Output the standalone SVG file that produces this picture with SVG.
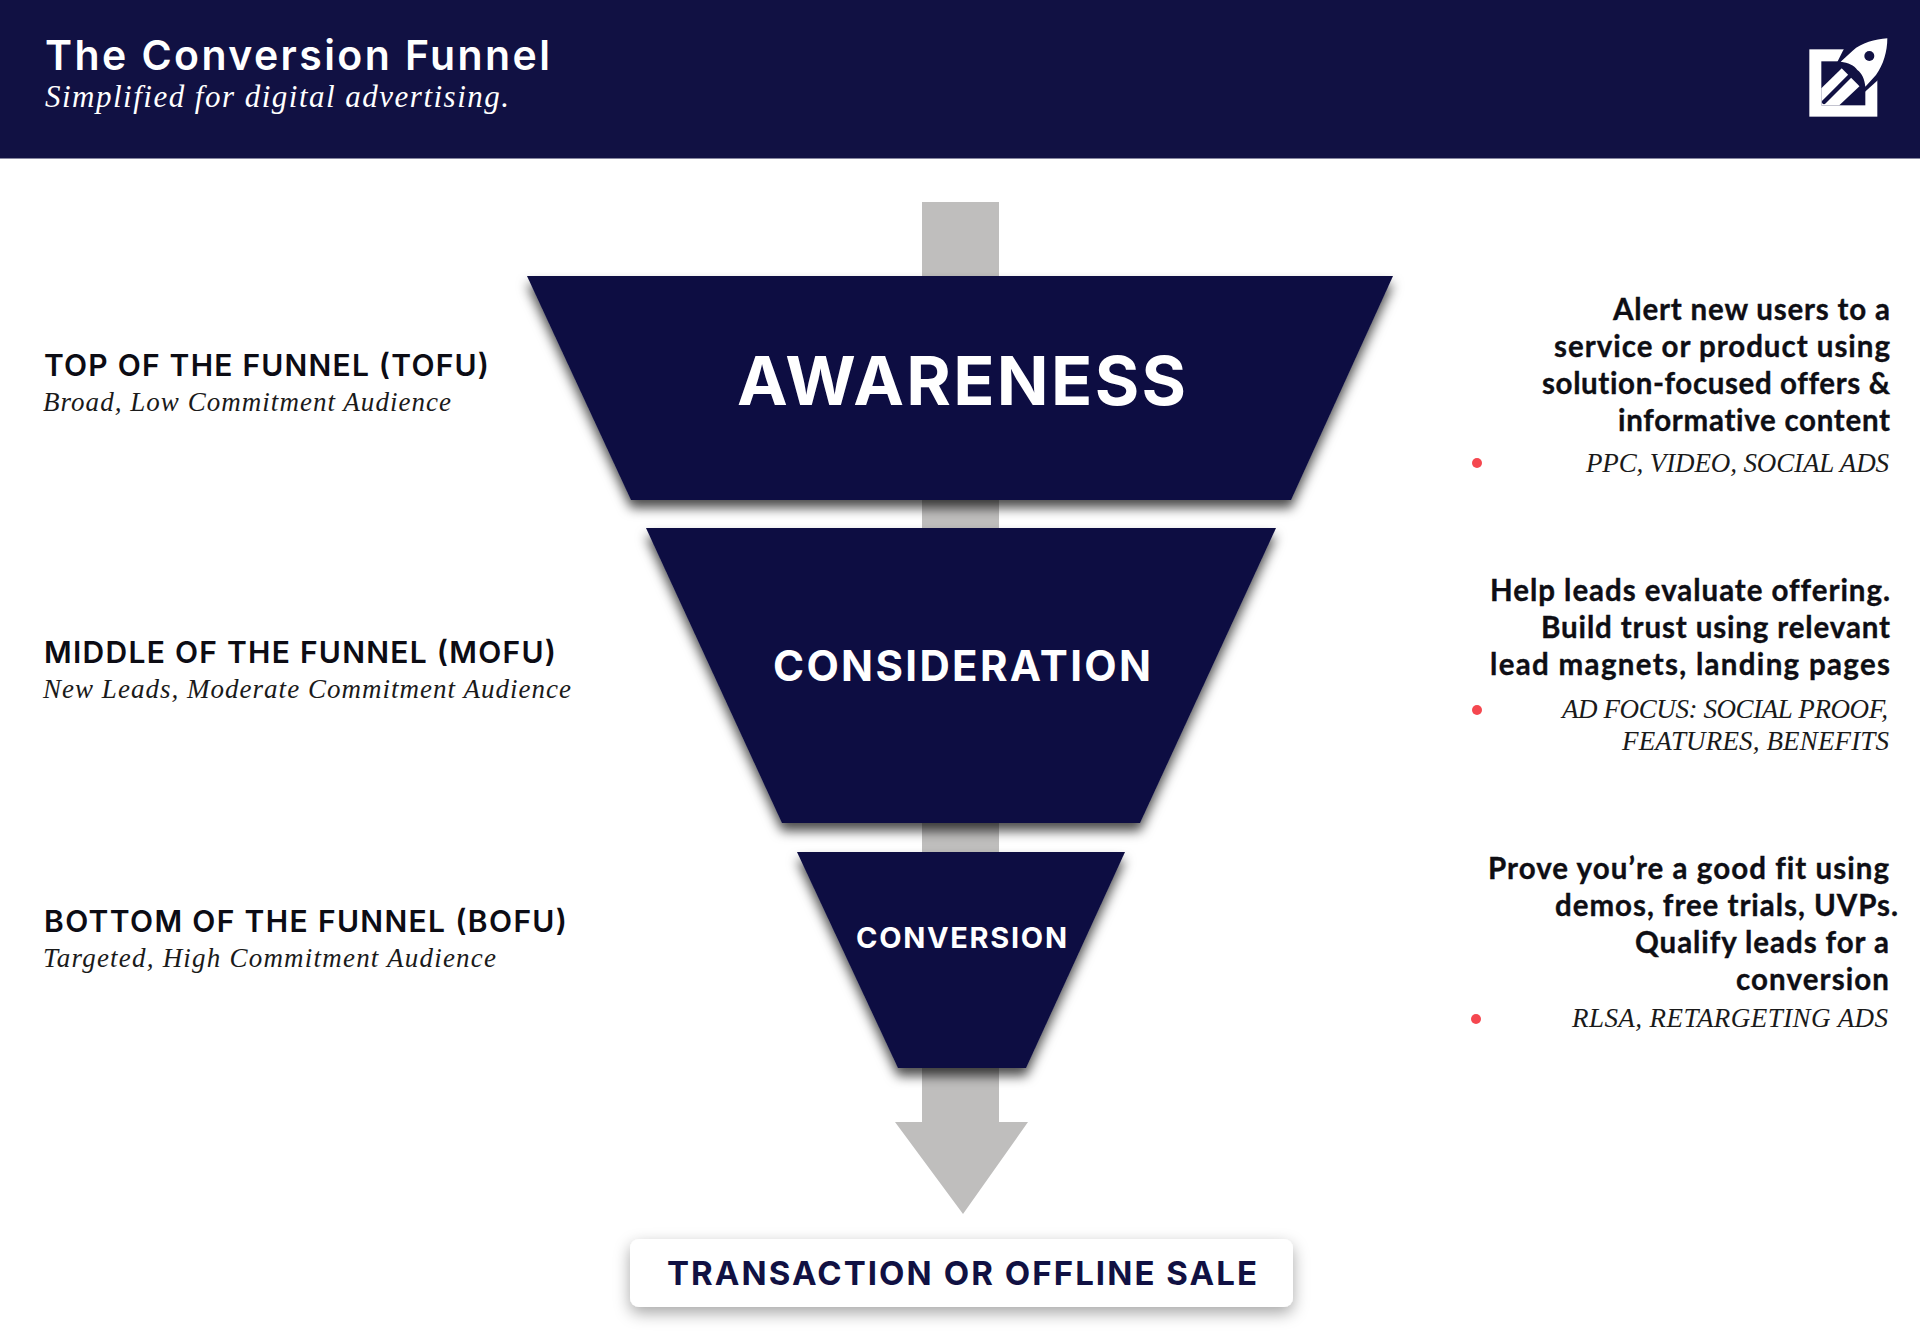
<svg xmlns="http://www.w3.org/2000/svg" width="1920" height="1339" viewBox="0 0 1920 1339">
<style>
.s{font-family:"Lato","Liberation Sans",sans-serif;font-variant-ligatures:none}
.c{font-family:"Inter","Liberation Sans",sans-serif}
.i{font-family:"Liberation Serif","Times New Roman",serif;font-style:italic;font-size:27px;fill:#1a1a1a}
.lab{font-size:30px;font-weight:600;fill:#0c0c14}
.body{font-size:29.5px;font-weight:700;fill:#0e0e14;stroke:#0e0e14;stroke-width:.35px}
.head{font-weight:700;fill:#fff}
.f{fill:#111143;filter:url(#sh)}
.dot{fill:#f5474f}
.nv{fill:#111143}
</style>
<defs>
<filter id="sh" x="-15%" y="-15%" width="130%" height="135%"><feDropShadow dx="0" dy="8" stdDeviation="6" flood-color="#000" flood-opacity="0.7"/></filter>
<filter id="bx" x="-10%" y="-40%" width="120%" height="190%"><feDropShadow dx="0" dy="6" stdDeviation="8" flood-color="#000" flood-opacity="0.35"/></filter>
</defs>
<rect width="1920" height="1339" fill="#fff"/>
<g id="header">
<rect class="nv" width="1920" height="158.5"/>
<text class="c" x="45" y="70" font-size="41" font-weight="600" fill="#fff" textLength="505">The Conversion Funnel</text>
<text class="i" x="45" y="107" style="font-size:31px;fill:#fff" textLength="464">Simplified for digital advertising.</text>
<g id="logo" transform="translate(1780 20) scale(.3333)">
<rect x="88" y="88" width="204" height="202" fill="#fff"/>
<rect class="nv" x="124" y="124" width="132" height="132"/>
<polygon fill="#fff" points="124,205 190,140 248,190 178,256 124,256"/>
<line x1="132" y1="246" x2="212" y2="166" stroke="#111143" stroke-width="13" stroke-linecap="round"/>
<polygon class="nv" points="195,80 300,80 300,175 255,215 170,130"/>
<path d="M322 55C285 58 245 68 218 92L182 125C205 128 222 135 232 150C246 160 254 178 256 200L288 165C310 135 322 95 322 55Z" fill="#fff"/>
<circle class="nv" cx="268" cy="108" r="15"/>
</g>
</g>
<g id="connectors">
<polygon fill="#bfbebd" points="922,202 999,202 999,1122 1028,1122 963,1214 895,1122 922,1122"/>
</g>
<g id="awareness">
<polygon class="f" points="527,276 1393,276 1291,500 631,500"/>
<text class="c head" x="737" y="405" font-size="68" textLength="449">AWARENESS</text>
</g>
<g id="consideration">
<polygon class="f" points="646,528 1276,528 1140,823 782,823"/>
<text class="c head" x="773" y="681" font-size="42" textLength="378">CONSIDERATION</text>
</g>
<g id="conversion">
<polygon class="f" points="797,852 1125,852 1026,1068 898,1068"/>
<text class="c head" x="856" y="948" font-size="29" textLength="211">CONVERSION</text>
</g>
<g id="transaction">
<rect x="630" y="1239" width="663" height="68" rx="9" fill="#fff" filter="url(#bx)"/>
<text class="c" x="667" y="1285" font-size="33" font-weight="700" fill="#111143" textLength="590">TRANSACTION OR OFFLINE SALE</text>
</g>
<g id="tofu-label">
<text class="c lab" x="44" y="376" textLength="445">TOP OF THE FUNNEL (TOFU)</text>
<text class="i" x="43" y="411" textLength="408">Broad, Low Commitment Audience</text>
</g>
<g id="mofu-label">
<text class="c lab" x="44" y="663" textLength="512">MIDDLE OF THE FUNNEL (MOFU)</text>
<text class="i" x="43" y="698" textLength="528">New Leads, Moderate Commitment Audience</text>
</g>
<g id="bofu-label">
<text class="c lab" x="44" y="932" textLength="523">BOTTOM OF THE FUNNEL (BOFU)</text>
<text class="i" x="43" y="967" textLength="453">Targeted, High Commitment Audience</text>
</g>
<g id="tofu-desc">
<text class="s body" x="1613" y="320" textLength="277">Alert new users to a</text>
<text class="s body" x="1554" y="357" textLength="336">service or product using</text>
<text class="s body" x="1542" y="394" textLength="348">solution-focused offers &amp;</text>
<text class="s body" x="1618" y="431" textLength="272">informative content</text>
<circle class="dot" cx="1477" cy="463" r="5"/>
<text class="i" x="1586" y="472" textLength="303">PPC, VIDEO, SOCIAL ADS</text>
</g>
<g id="mofu-desc">
<text class="s body" x="1490" y="601" textLength="400">Help leads evaluate offering.</text>
<text class="s body" x="1541" y="638" textLength="349">Build trust using relevant</text>
<text class="s body" x="1490" y="675" textLength="400">lead magnets, landing pages</text>
<circle class="dot" cx="1477" cy="710" r="5"/>
<text class="i" x="1562" y="718" textLength="326">AD FOCUS: SOCIAL PROOF,</text>
<text class="i" x="1622" y="750" textLength="267">FEATURES, BENEFITS</text>
</g>
<g id="bofu-desc">
<text class="s body" x="1488" y="879" textLength="401">Prove you’re a good fit using</text>
<text class="s body" x="1555" y="916" textLength="343">demos, free trials, UVPs.</text>
<text class="s body" x="1635" y="953" textLength="254">Qualify leads for a</text>
<text class="s body" x="1736" y="990" textLength="153">conversion</text>
<circle class="dot" cx="1476" cy="1019" r="5"/>
<text class="i" x="1572" y="1027" textLength="316">RLSA, RETARGETING ADS</text>
</g>
</svg>
